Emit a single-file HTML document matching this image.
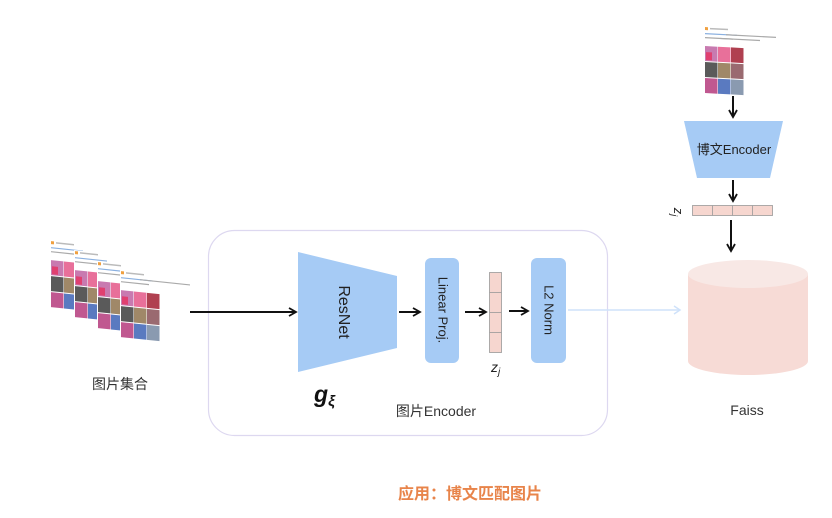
<!DOCTYPE html>
<html><head><meta charset="utf-8"><style>
html,body{margin:0;padding:0;background:#fff;}
svg{display:block;}
text{font-family:"Liberation Sans","Noto Sans CJK SC",sans-serif;}
</style></head><body>
<svg width="832" height="518" viewBox="0 0 832 518" xmlns="http://www.w3.org/2000/svg">
<defs>
<marker id="ah" markerWidth="10" markerHeight="10" refX="8" refY="5" orient="auto" markerUnits="userSpaceOnUse">
<path d="M1,1 L8,5 L1,9" fill="none" stroke="#111" stroke-width="1.8"/>
</marker>
<g id="card">
<rect x="0" y="0" width="40" height="68" fill="#fff"/>
<rect x="1" y="1" width="3" height="3" fill="#f0a040"/>
<rect x="6" y="1.5" width="18" height="1.5" fill="#bbb"/>
<rect x="1" y="7" width="32" height="1.2" fill="#8ab0e0"/>
<rect x="1" y="11" width="28" height="1.2" fill="#aaa"/>
<rect x="1" y="20" width="12.5" height="15" fill="#c87ab0"/>
<rect x="2" y="26" width="6" height="8" fill="#e04070"/>
<rect x="14" y="20" width="12.5" height="15" fill="#e8709a"/>
<rect x="27" y="20" width="12.5" height="15" fill="#b04050"/>
<rect x="1" y="36" width="12.5" height="15" fill="#5a5a5a"/>
<rect x="14" y="36" width="12.5" height="15" fill="#a08868"/>
<rect x="27" y="36" width="12.5" height="15" fill="#9a6a70"/>
<rect x="1" y="52" width="12.5" height="15" fill="#c05890"/>
<rect x="14" y="52" width="12.5" height="15" fill="#5a7ac0"/>
<rect x="27" y="52" width="12.5" height="15" fill="#8a9ab0"/>
</g>
</defs>

<!-- left stack -->
<g transform="translate(50,240) skewY(6)"><use href="#card"/></g>
<g transform="translate(74,250) skewY(6)"><use href="#card"/></g>
<g transform="translate(97,261) skewY(6)"><use href="#card"/></g>
<g transform="translate(120,270) skewY(6)"><use href="#card"/><rect x="20" y="7" width="50" height="1.2" fill="#aaa"/></g>
<text x="120" y="389" font-size="14" fill="#333" text-anchor="middle">图片集合</text>

<!-- encoder box -->
<rect x="208.5" y="230.5" width="399" height="205" rx="26" fill="none" stroke="#ddd8f0" stroke-width="1.2"/>
<line x1="190" y1="312" x2="296" y2="312" stroke="#111" stroke-width="2" marker-end="url(#ah)"/>
<polygon points="298,252 397,276 397,348 298,372" fill="#a6cbf5"/>
<text transform="translate(343,312) rotate(90)" font-size="16" fill="#222" text-anchor="middle" dominant-baseline="middle">ResNet</text>
<text x="314" y="402" font-size="23" font-weight="bold" font-style="italic" font-family="Liberation Serif,serif" fill="#111">g<tspan font-size="15" dy="4">ξ</tspan></text>
<line x1="399" y1="312" x2="420" y2="312" stroke="#111" stroke-width="2" marker-end="url(#ah)"/>
<rect x="425" y="258" width="34" height="105" rx="6" fill="#a6cbf5"/>
<text transform="translate(442,310) rotate(90)" font-size="13" fill="#222" text-anchor="middle" dominant-baseline="middle">Linear Proj.</text>
<line x1="465" y1="312" x2="486" y2="312" stroke="#111" stroke-width="2" marker-end="url(#ah)"/>
<rect x="489.5" y="272.5" width="12" height="80" fill="#f6d6cf" stroke="#999" stroke-width="0.8"/>
<line x1="489.5" y1="292.5" x2="501.5" y2="292.5" stroke="#999" stroke-width="0.8"/>
<line x1="489.5" y1="312.5" x2="501.5" y2="312.5" stroke="#999" stroke-width="0.8"/>
<line x1="489.5" y1="332.5" x2="501.5" y2="332.5" stroke="#999" stroke-width="0.8"/>
<text x="491" y="372" font-size="14" font-style="italic" font-family="Liberation Serif,serif" fill="#222">z<tspan font-size="10" dy="3">j</tspan></text>
<line x1="509" y1="311" x2="528" y2="311" stroke="#111" stroke-width="2" marker-end="url(#ah)"/>
<rect x="531" y="258" width="35" height="105" rx="6" fill="#a6cbf5"/>
<text transform="translate(548,310) rotate(90)" font-size="13" fill="#222" text-anchor="middle" dominant-baseline="middle">L2 Norm</text>
<text x="436" y="416" font-size="14" fill="#333" text-anchor="middle">图片Encoder</text>

<line x1="568" y1="310" x2="680" y2="310" stroke="#cfe2fa" stroke-width="1.5"/>
<path d="M674,306 L680,310 L674,314" fill="none" stroke="#cfe2fa" stroke-width="1.5"/>

<!-- right column -->
<g transform="translate(704,26) skewY(3)"><use href="#card"/><rect x="22" y="7" width="50" height="1.2" fill="#aaa"/><rect x="16" y="11" width="40" height="1.2" fill="#aaa"/></g>
<line x1="733" y1="96" x2="733" y2="117" stroke="#111" stroke-width="2" marker-end="url(#ah)"/>
<polygon points="684,121 783,121 770,178 697,178" fill="#a6cbf5"/>
<text x="734" y="154" font-size="13" fill="#222" text-anchor="middle">博文Encoder</text>
<line x1="733" y1="180" x2="733" y2="201" stroke="#111" stroke-width="2" marker-end="url(#ah)"/>
<rect x="692.5" y="205.5" width="80" height="10" fill="#f6d6cf" stroke="#999" stroke-width="0.8"/>
<line x1="712.5" y1="205.5" x2="712.5" y2="215.5" stroke="#999" stroke-width="0.8"/>
<line x1="732.5" y1="205.5" x2="732.5" y2="215.5" stroke="#999" stroke-width="0.8"/>
<line x1="752.5" y1="205.5" x2="752.5" y2="215.5" stroke="#999" stroke-width="0.8"/>
<text transform="translate(674,212) rotate(90)" font-size="13" font-style="italic" font-family="Liberation Serif,serif" fill="#222" text-anchor="middle">z<tspan font-size="9" dy="3">j</tspan></text>
<line x1="731" y1="220" x2="731" y2="251" stroke="#111" stroke-width="2" marker-end="url(#ah)"/>

<path d="M688,274 L688,361 A60,14 0 0 0 808,361 L808,274 Z" fill="#f7dbd6"/>
<ellipse cx="748" cy="274" rx="60" ry="14" fill="#f8e8e5"/>
<text x="747" y="415" font-size="14" fill="#333" text-anchor="middle">Faiss</text>

<text x="470" y="499" font-size="16" font-weight="bold" fill="#e8844a" text-anchor="middle">应用：博文匹配图片</text>
</svg>
</body></html>
